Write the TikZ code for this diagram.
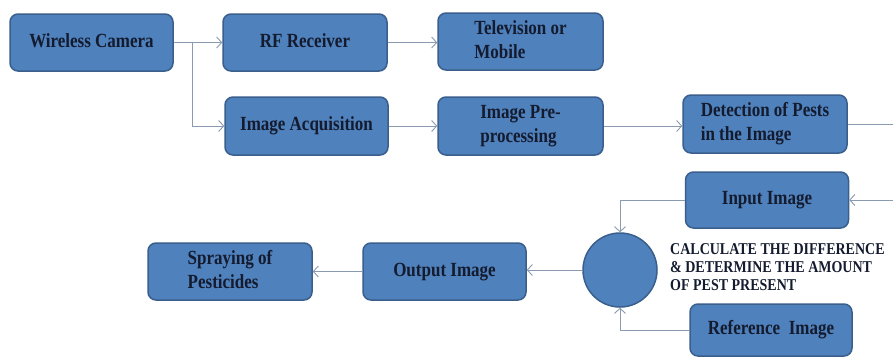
\documentclass[tikz,border=0pt]{standalone}
\usepackage{fontspec}
\setmainfont{Liberation Serif}
\usetikzlibrary{arrows.meta}
\definecolor{boxfill}{HTML}{4F81BD}
\definecolor{boxline}{HTML}{3A5F8C}
\definecolor{txtcol}{HTML}{141B2E}
\definecolor{linecol}{HTML}{8A9BB0}
\newcommand{\bxt}[1]{\scalebox{1}[1.18]{\begin{tabular}{@{}l@{}}#1\end{tabular}}}
\begin{document}
\begin{tikzpicture}[x=1pt,y=-1pt,
  block/.style={draw=boxline, line width=1.5pt, fill=boxfill, rounded corners=8pt,
    inner sep=0pt, text=txtcol, font=\fontsize{17}{20.3}\selectfont\bfseries},
  arr/.style={draw=linecol, line width=0.9pt, -{Straight Barb[length=5pt,width=11pt]}},
  ln/.style={draw=linecol, line width=0.9pt}]
\useasboundingbox (0,0) rectangle (893,356);
\fill[white] (0,0) rectangle (893,356);

\node[block, minimum width=163pt, minimum height=57pt] (wc) at (91.5,42.5) {\bxt{Wireless Camera}};
\node[block, minimum width=164pt, minimum height=57pt] (rf) at (305,42.5) {\bxt{RF Receiver}};
\node[block, minimum width=165pt, minimum height=57pt] (tv) at (520.5,41.5) {\bxt{Television or\\Mobile}};
\node[block, minimum width=163pt, minimum height=58pt] (ia) at (306.5,126) {\bxt{Image Acquisition}};
\node[block, minimum width=165pt, minimum height=58pt] (pp) at (520.5,126) {\bxt{Image Pre-\\processing}};
\node[block, minimum width=164pt, minimum height=58pt] (dp) at (765,124) {\bxt{Detection of Pests\\in the Image}};
\node[block, minimum width=163pt, minimum height=56pt] (ii) at (767,200) {\bxt{Input Image}};
\node[block, minimum width=162pt, minimum height=52pt] (ri) at (771,330) {\bxt{Reference\ \ Image}};
\node[draw=boxline, line width=1.5pt, fill=boxfill, circle, minimum size=74pt, inner sep=0pt] (c) at (620,270) {};
\node[block, minimum width=163pt, minimum height=57pt] (oi) at (444.5,271.5) {\bxt{Output Image}};
\node[block, minimum width=164pt, minimum height=57pt] (sp) at (230,271.5) {\bxt{Spraying of\\Pesticides}};
\node[anchor=west, inner sep=0pt, text=txtcol, font=\fontsize{14}{15.3}\selectfont\bfseries] (lbl) at (670,269)
  {\bxt{CALCULATE THE DIFFERENCE\\\& DETERMINE THE AMOUNT\\OF PEST PRESENT}};

\coordinate (br) at (192,42.5);
\coordinate (r1) at (905,124);
\coordinate (r2) at (905,200);

\draw[arr] (wc.east) -- (rf.west);
\draw[arr] (br) |- (ia.west);
\draw[arr] (rf.east) -- (rf.east -| tv.west);
\draw[arr] (ia.east) -- (ia.east -| pp.west);
\draw[arr] (pp.east) -- (pp.east -| dp.west);
\draw[ln] (dp.east) -- (r1) -- (r2);
\draw[arr] (r2) -- (ii.east);
\draw[arr] (ii.west) -| (c.north);
\draw[arr] (ri.west) -| (c.south);
\draw[arr] (c.west) -- (c.west -| oi.east);
\draw[arr] (oi.west) -- (oi.west -| sp.east);
\end{tikzpicture}
\end{document}
